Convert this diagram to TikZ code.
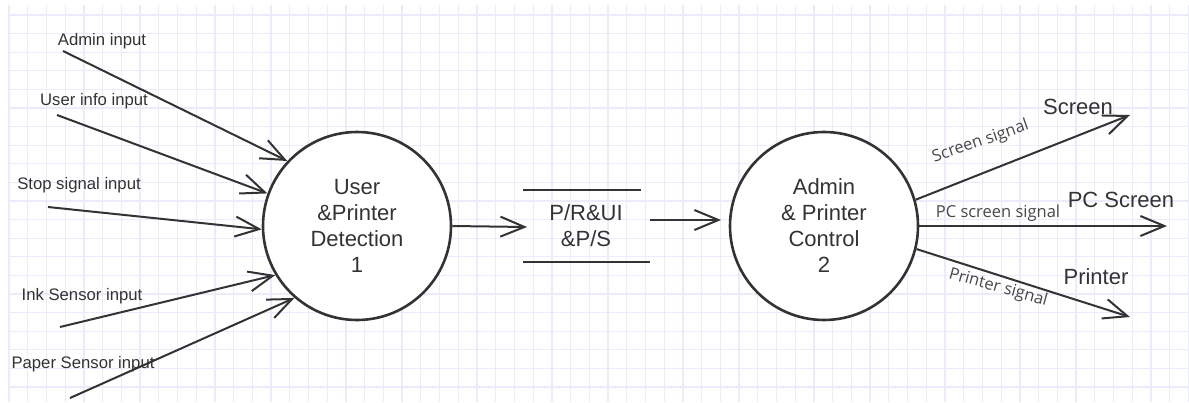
\documentclass[tikz,border=0pt]{standalone}
\usepackage{fontspec}
\setmainfont{Liberation Sans}
\newfontfamily\sigfont{Open Sans}
\usetikzlibrary{arrows.meta}
\definecolor{ink}{HTML}{333333}
\definecolor{siggray}{HTML}{484848}
\definecolor{gridc}{HTML}{EBEBFC}
\begin{document}
\begin{tikzpicture}[x=1pt,y=-1pt,
  gridline/.style={draw=gridc,line width=1.3pt},
  flow/.style={draw=ink,line width=2pt,-{Straight Barb[length=24pt,width=20pt,line width=2pt]}},
  proc/.style={circle,draw=ink,line width=2.6pt,minimum size=188pt,inner sep=0pt,align=center,
    font=\fontsize{22pt}{26pt}\selectfont,text=ink,fill=white},
  inlabel/.style={anchor=base,font=\fontsize{16.7pt}{20pt}\selectfont,text=ink,inner sep=0pt},
  outlabel/.style={anchor=base,font=\fontsize{22pt}{26pt}\selectfont,text=ink,inner sep=0pt},
  siglabel/.style={anchor=base,font=\sigfont\fontsize{16.5pt}{20pt}\selectfont,text=siggray,inner sep=0pt},
  storetext/.style={align=center,font=\fontsize{22pt}{26pt}\selectfont,text=ink,inner sep=0pt,
    minimum width=118pt,minimum height=74pt}
]
\useasboundingbox (0,0) rectangle (1189,402);
\fill[white] (0,0) rectangle (1189,402);
% grid
\foreach \i in {0,...,63} {\draw[gridline] ({9+18.72*\i},5) -- ({9+18.72*\i},402);}
\foreach \j in {0,...,20} {\draw[gridline] (8,{15+18.6*\j}) -- (1189,{15+18.6*\j});}

% processes
\node[proc] (c1) at (357,226) {User\\\&Printer\\Detection\\1};
\node[proc] (c2) at (824,226) {Admin\\\& Printer\\Control\\2};

% data store
\node[storetext] (store) at (586,226) {P/R\&UI\\\&P/S};
\draw[ink,line width=2pt] ([xshift=-4pt]store.north west) ++(0,1) -- ++(118,0);
\draw[ink,line width=2pt] ([xshift=-4pt]store.south west) ++(0,-1) -- ++(127,0);

% input labels
\node[inlabel] (lAdmin) at (102,45) {Admin input};
\node[inlabel] (lUser) at (94,105) {User info input};
\node[inlabel] (lStop) at (79,189) {Stop signal input};
\node[inlabel] (lInk) at (82,300) {Ink Sensor input};
\node[inlabel] (lPaper) at (83,368) {Paper Sensor input};

% input start points
\coordinate (sAdmin) at (63,51);
\coordinate (sUser) at (57,115);
\coordinate (sStop) at (48,207);
\coordinate (sInk) at (60,327);
\coordinate (sPaper) at (70,398);

\draw[flow] (sAdmin) -- (c1.137);
\draw[flow] (sUser) -- (c1.160);
\draw[flow] (sStop) -- (c1.182);
\draw[flow] (sInk) -- (c1.211);
\draw[flow] (sPaper) -- (c1.229);

% middle flows
\coordinate (stIn) at (527,227);
\coordinate (stOut) at (650,220);
\coordinate (c2In) at (721,220);
\draw[flow] (c1.east) -- (stIn);
\draw[flow] (stOut) -- (c2In);

% outputs
\coordinate (eScreen) at (1130,115);
\coordinate (ePC) at (1167,226);
\coordinate (ePrinter) at (1130,317);
\draw[flow] (c2.16) -- (eScreen);
\draw[flow] (c2.0) -- (ePC);
\draw[flow] (c2.-14) -- (ePrinter);

\node[outlabel] (oScreen) at (1078,114) {Screen};
\node[outlabel] (oPC) at (1121,207) {PC Screen};
\node[outlabel] (oPrinter) at (1096,284) {Printer};

\node[siglabel,rotate=19] (sgScreen) at (982,146) {Screen signal};
\node[siglabel] (sgPC) at (998,217) {PC screen signal};
\node[siglabel,rotate=-15.5] (sgPrinter) at (997,292) {Printer signal};
\end{tikzpicture}
\end{document}
